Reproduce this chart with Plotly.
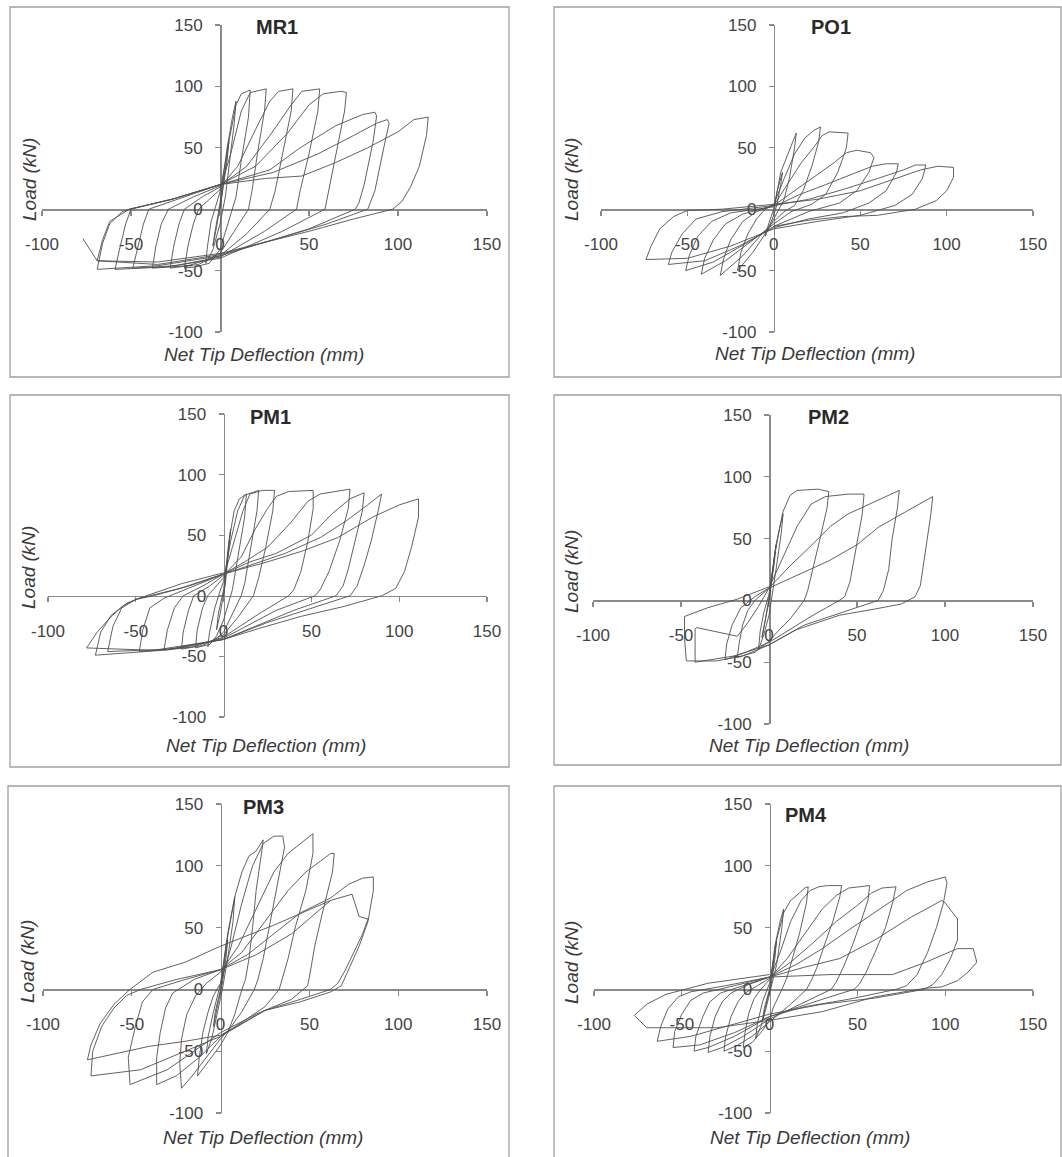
import plotly.graph_objects as go

# ---------------- data ----------------
panel_names = ["MR1", "PO1", "PM1", "PM2", "PM3", "PM4"]
tick_values = [-100, -50, 0, 50, 100, 150]
tick_labels = ["-100", "-50", "0", "50", "100", "150"]
x_title = "Net Tip Deflection (mm)"
y_title = "Load (kN)"

mr1_x = [0, 3, 5, 4, 1, -2, -4, -3, 0,
         4, 7, 9, 8, 5, 3, 0, -4, -8, -7, -5, -2, 0,
         5, 9, 12, 17, 16, 12, 9, 7, 3, 0, -6, -14, -20, -18, -15, -12, -6, 0,
         6, 12, 17, 26, 25, 21, 18, 16, 8, 0, -12, -28, -26, -23, -20, -10, 0,
         10, 20, 28, 33, 41, 40, 35, 31, 28, 15, 0, -18, -38, -36, -33, -29, -15, 0,
         15, 28, 40, 46, 56, 55, 50, 45, 43, 25, 0, -25, -49, -46, -43, -40, -20, 0,
         20, 38, 50, 58, 68, 71, 70, 65, 61, 59, 35, 0, -30, -59, -56, -53, -50, -25, 0,
         28, 45, 65, 80, 87, 88, 86, 81, 78, 76, 50, 25, 0, -35, -69, -66, -62, -55, -51, -27, 0,
         30, 55, 75, 88, 94, 95, 92, 87, 83, 60, 30, 0, -35, -69, -66, -62, -51, -27, 0,
         25, 46, 65, 83, 100, 109, 117, 116, 112, 107, 102, 97, 75, 50, 25, 0, -35, -69, -77]
mr1_y = [0, 35, 55, 40, 10, -15, -30, -20, 5,
         50, 75, 88, 70, 35, 10, -12, -33, -44, -30, -10, 5, 14,
         55, 85, 94, 97, 75, 40, 10, 0, -18, -33, -44, -47, -48, -30, -12, 0, 8, 16,
         45, 80, 95, 98, 80, 45, 15, 0, -18, -36, -45, -48, -30, -12, 0, 10, 18,
         35, 65, 88, 96, 98, 80, 45, 15, 0, -20, -38, -46, -48, -30, -12, 0, 10, 19,
         35, 60, 85, 96, 98, 80, 45, 15, 0, -18, -39, -46, -48, -30, -12, 0, 10, 20,
         35, 62, 85, 94, 96, 95, 80, 45, 15, 0, -18, -40, -47, -49, -30, -12, 0, 9, 20,
         32, 50, 68, 77, 79, 76, 55, 20, 5, 0, -16, -27, -38, -46, -49, -28, -12, -2, 0, 8, 20,
         30, 45, 60, 70, 73, 70, 50, 15, 0, -12, -25, -37, -45, -42, -25, -10, 0, 8, 20,
         25, 27, 38, 50, 63, 73, 75, 60, 35, 18, 6, 0, -8, -18, -27, -36, -43, -42, -24]

po1_x = [0, 2, 5, 4, 2, 0, -3, -5, -3, 0,
         4, 8, 11, 13, 12, 9, 6, 3, 0, -5, -12, -21, -19, -15, -10, -5, 0,
         6, 12, 18, 23, 27, 26, 22, 17, 12, 6, 0, -8, -18, -31, -29, -25, -18, -10, 0,
         8, 16, 24, 28, 32, 43, 42, 37, 30, 22, 10, 0, -12, -28, -42, -40, -35, -28, -18, 0,
         12, 25, 35, 42, 48, 56, 58, 55, 48, 38, 20, 0, -15, -35, -51, -49, -44, -36, -25, 0,
         15, 30, 45, 57, 65, 72, 71, 65, 55, 40, 20, 0, -20, -40, -61, -59, -53, -45, -30, 0,
         20, 40, 60, 75, 82, 88, 86, 80, 70, 50, 25, 0, -25, -50, -74, -71, -66, -58, -50, -30, 0,
         25, 50, 70, 85, 95, 104, 104, 100, 94, 82, 60, 40, 20, 0]
po1_y = [0, 15, 30, 20, 5, -5, -15, -22, -12, 0,
         30, 45, 55, 62, 50, 25, 8, 0, -8, -20, -35, -50, -35, -20, -8, 0, 4,
         25, 45, 58, 64, 67, 55, 35, 15, 3, -2, -10, -22, -38, -54, -40, -25, -10, -2, 3,
         20, 38, 52, 60, 63, 62, 50, 30, 12, 4, -2, -12, -25, -42, -53, -40, -25, -12, -4, 3,
         15, 28, 38, 46, 48, 46, 42, 30, 15, 5, -2, -14, -27, -43, -50, -38, -22, -10, -3, 2,
         12, 20, 28, 35, 37, 37, 30, 15, 5, -3, -8, -15, -30, -42, -45, -35, -20, -8, -2, 3,
         8, 16, 25, 32, 36, 36, 25, 12, 3, -5, -10, -16, -30, -40, -41, -30, -16, -6, -1, 0, 4,
         8, 15, 25, 32, 35, 34, 26, 15, 7, 0, -5, -6, -9, -14]

pm1_x = [0, 2, 4, 3, 1, -2, -4, -3, 0,
         3, 6, 9, 13, 12, 8, 5, 3, 0, -4, -9, -8, -5, -2, 0,
         4, 8, 12, 20, 19, 15, 12, 10, 5, 0, -8, -16, -15, -12, -9, -5, 0,
         5, 11, 15, 22, 29, 28, 24, 20, 17, 8, 0, -12, -24, -23, -20, -17, -8, 0,
         10, 18, 25, 30, 37, 51, 51, 48, 44, 40, 37, 20, 0, -17, -34, -32, -28, -23, -12, 0,
         12, 25, 38, 48, 55, 72, 71, 66, 60, 55, 52, 30, 0, -24, -48, -46, -42, -34, -20, 0,
         15, 30, 50, 62, 72, 80, 79, 75, 71, 68, 64, 40, 0, -30, -66, -63, -58, -50, -40, -20, 0,
         20, 35, 55, 70, 82, 90, 88, 84, 80, 76, 72, 50, 25, 0, -35, -73, -70, -64, -55, -48, -25, 0,
         25, 45, 65, 85, 100, 111, 111, 107, 103, 98, 90, 68, 44, 20, 0, -40, -78, -72, -64, -57, -50, -24, 0]
pm1_y = [0, 30, 55, 40, 10, -15, -28, -15, 5,
         45, 70, 80, 84, 65, 30, 5, -5, -20, -33, -42, -30, -10, 4, 12,
         45, 70, 83, 87, 70, 35, 10, 0, -15, -30, -40, -43, -28, -10, 0, 7, 15,
         40, 70, 84, 87, 87, 70, 40, 15, 0, -18, -32, -41, -44, -30, -12, 0, 8, 17,
         32, 55, 72, 82, 86, 87, 72, 45, 20, 5, 0, -15, -34, -42, -45, -28, -10, 0, 8, 18,
         28, 40, 60, 78, 84, 88, 72, 45, 20, 5, 0, -12, -35, -43, -46, -28, -10, -2, 6, 18,
         28, 35, 50, 68, 80, 85, 70, 45, 22, 8, 0, -12, -36, -44, -46, -25, -10, -3, 0, 8, 18,
         28, 35, 48, 62, 75, 84, 70, 45, 25, 8, 0, -10, -22, -36, -45, -49, -30, -16, -6, -2, 6, 18,
         28, 37, 48, 65, 75, 80, 65, 40, 20, 6, 0, -9, -17, -27, -36, -45, -43, -30, -17, -8, -3, 10, 19]

pm2_x = [0, 2, 4, 3, 1, -2, -4, -3, 0,
         3, 6, 8, 7, 4, 2, 0, -3, -6, -5, -3, 0,
         4, 8, 12, 16, 28, 34, 33, 29, 25, 22, 20, 12, 5, 0, -8, -18, -17, -15, -12, -8, -4, 0,
         8, 16, 24, 32, 45, 54, 53, 50, 46, 43, 40, 25, 10, 0, -15, -25, -24, -21, -16, -8, 0,
         12, 23, 35, 45, 60, 70, 74, 73, 70, 68, 65, 62, 45, 20, 0, -20, -42, -42, -41, -18, -12, -6, 0,
         18, 34, 50, 62, 78, 93, 92, 90, 88, 86, 83, 75, 60, 40, 15, 0, -15, -30, -47, -48, -48, -35, -18, 0]
pm2_y = [0, 25, 45, 30, 10, -15, -30, -20, 0,
         35, 58, 70, 55, 25, 5, -12, -28, -40, -25, -10, 5,
         45, 72, 85, 89, 90, 88, 75, 50, 25, 8, 0, -15, -25, -33, -42, -46, -35, -20, -8, 0, 5, 10,
         35, 60, 78, 84, 86, 86, 70, 45, 15, 3, 0, -12, -25, -34, -43, -48, -35, -20, -6, 3, 10,
         28, 43, 60, 70, 80, 86, 89, 75, 50, 25, 8, 0, -8, -20, -36, -45, -50, -23, -22, -29, -18, -5, 10,
         22, 32, 45, 59, 72, 84, 70, 50, 30, 12, 3, -3, -7, -12, -24, -36, -45, -49, -49, -30, -13, -6, 1, 11]

pm3_x = [0, 2, 4, 3, 1, -2, -4, -3, 0,
         3, 6, 8, 7, 4, 1, -2, -5, -8, -7, -4, 0,
         4, 8, 12, 16, 20, 24, 23, 20, 18, 16, 14, 12, 8, 4, 0, -5, -10, -13, -12, -10, -7, -4, 0,
         6, 12, 18, 24, 30, 35, 36, 32, 28, 24, 21, 19, 12, 5, 0, -8, -16, -22, -23, -22, -19, -14, -8, 0,
         10, 20, 30, 38, 45, 52, 52, 48, 42, 38, 34, 33, 25, 10, 0, -12, -25, -36, -36, -34, -31, -27, -15, 0,
         12, 25, 38, 48, 56, 62, 64, 63, 57, 53, 50, 49, 40, 20, 0, -15, -30, -51, -52, -48, -44, -38, -20, 0,
         15, 30, 45, 62, 72, 80, 86, 86, 83, 78, 72, 68, 62, 45, 25, 0, -20, -45, -73, -72, -67, -60, -53, -45, -25, 0,
         20, 40, 62, 74, 78, 83, 80, 75, 70, 66, 62, 45, 25, 0, -20, -40, -75, -73, -68, -60, -51, -38, -20, 0, 30, 62]
pm3_y = [0, 20, 40, 25, 5, -15, -30, -18, 0,
         35, 60, 75, 55, 25, 0, -20, -40, -52, -38, -18, 5,
         45, 75, 95, 108, 112, 121, 110, 80, 50, 25, 8, 0, -20, -35, -45, -55, -65, -70, -55, -35, -18, -5, 5,
         35, 70, 100, 118, 124, 124, 115, 85, 55, 25, 8, 0, -18, -32, -40, -55, -70, -80, -60, -40, -20, -5, 5, 14,
         35, 65, 95, 110, 118, 126, 110, 80, 50, 25, 5, 0, -14, -28, -38, -55, -70, -77, -55, -35, -15, -3, 8, 16,
         30, 55, 80, 95, 104, 110, 110, 95, 60, 35, 10, 3, -8, -20, -35, -50, -65, -77, -55, -30, -10, 0, 8, 16,
         28, 45, 62, 74, 85, 90, 91, 80, 55, 35, 15, 3, -2, -10, -17, -38, -50, -65, -70, -50, -30, -15, -5, 0, 8, 16,
         28, 45, 72, 77, 59, 57, 45, 30, 15, 5, 0, -8, -17, -37, -42, -46, -57, -45, -28, -12, 0, 14, 22, 35, 52, 72]

pm4_x = [0, 2, 4, 3, 1, -2, -4, -3, 0,
         3, 6, 8, 7, 4, 1, -2, -5, -8, -7, -4, 0,
         4, 8, 12, 17, 20, 22, 21, 17, 13, 10, 7, 2, 0, -5, -10, -15, -14, -12, -9, -5, 0,
         6, 12, 18, 23, 28, 33, 41, 40, 36, 31, 27, 24, 21, 12, 0, -10, -18, -26, -25, -22, -18, -14, -7, 0,
         10, 20, 30, 38, 45, 57, 56, 52, 47, 42, 38, 35, 20, 0, -15, -27, -35, -34, -31, -27, -22, -12, 0,
         12, 25, 38, 50, 58, 64, 72, 70, 66, 60, 55, 51, 48, 30, 0, -20, -35, -43, -42, -38, -34, -28, -15, 0,
         15, 30, 45, 60, 70, 78, 90, 100, 101, 99, 95, 90, 84, 78, 72, 45, 20, 0, -20, -40, -55, -54, -50, -45, -38, -20, 0,
         20, 40, 60, 80, 93, 98, 100, 107, 107, 103, 98, 93, 88, 60, 30, 0, -25, -45, -64, -62, -58, -52, -45, -25, 0,
         35, 70, 89, 107, 116, 118, 113, 107, 98, 89, 60, 30, 0, -30, -50, -70, -77, -70, -59, -35, 0]
pm4_y = [0, 20, 40, 25, 5, -12, -25, -15, 0,
         35, 55, 65, 50, 20, 2, -15, -30, -40, -28, -10, 5,
         40, 62, 72, 78, 82, 83, 70, 45, 25, 10, 0, -15, -25, -35, -43, -47, -35, -20, -8, 0, 8,
         30, 55, 72, 80, 83, 84, 84, 75, 55, 35, 18, 8, 0, -12, -26, -38, -45, -50, -38, -22, -10, -3, 3, 9,
         25, 45, 65, 76, 82, 84, 72, 55, 35, 18, 6, 0, -10, -24, -38, -47, -51, -38, -22, -10, -3, 4, 10,
         22, 38, 55, 68, 78, 82, 83, 70, 50, 30, 14, 4, 0, -8, -22, -38, -47, -50, -38, -22, -10, -3, 3, 10,
         20, 33, 48, 62, 72, 80, 87, 91, 86, 70, 50, 30, 12, 3, 0, -8, -14, -22, -35, -45, -47, -34, -20, -9, -3, 3, 10,
         18, 25, 40, 58, 68, 72, 70, 57, 40, 25, 12, 4, 0, -7, -12, -20, -30, -38, -42, -30, -16, -6, -2, 3, 10,
         12, 12, 22, 33, 33, 22, 14, 7, 2, 1, -6, -18, -25, -31, -31, -31, -21, -12, -4, 5, 12]

series_x = [mr1_x, po1_x, pm1_x, pm2_x, pm3_x, pm4_x]
series_y = [mr1_y, po1_y, pm1_y, pm2_y, pm3_y, pm4_y]

# ---------------- layout (pixel geometry) ----------------
W, H = 1062, 1157
plot_boxes = [(42, 487, 25, 332), (601, 1033, 25, 332),
              (48, 487, 414, 717), (593, 1033, 415, 724),
              (43, 487, 804, 1113), (594, 1033, 804, 1113)]
frames = [(10, 509, 7, 377), (554, 1061, 7, 377),
          (10, 509, 395, 767), (554, 1061, 395, 765),
          (8, 509, 786, 1170), (554, 1061, 786, 1170)]
name_pos = [(277, 27), (831, 27), (270, 417), (828, 417), (263, 807), (806, 815)]
ytitle_pos = [(29, 180), (571, 180), (28, 568), (571, 572), (27, 962), (571, 963)]
xtitle_pos = [(264, 354), (815, 353), (266, 745), (809, 745), (263, 1137), (810, 1137)]

FONT = "Liberation Sans, Arial, sans-serif"
TXT = "#3a3a3a"
AX = "#8a8a8a"

fig = go.Figure()
layout = dict(width=W, height=H, autosize=False,
              margin=dict(l=0, r=0, t=0, b=0, pad=0, autoexpand=False),
              paper_bgcolor="white", plot_bgcolor="rgba(0,0,0,0)",
              showlegend=False, hovermode=False, font=dict(family=FONT, color=TXT))
annotations = []
shapes = []

for i in range(6):
    k = "" if i == 0 else str(i + 1)
    x0, x1, y0, y1 = plot_boxes[i]
    zero_x = x0 + (0 - (-100)) / 250 * (x1 - x0)
    zero_y = y0 + (150 - 0) / 250 * (y1 - y0)
    fig.add_trace(go.Scatter(x=series_x[i], y=series_y[i], mode="lines",
                             line=dict(color="#505050", width=0.9),
                             xaxis="x" + k, yaxis="y" + k, hoverinfo="skip"))
    common = dict(range=[-100, 150], tickvals=tick_values, ticktext=tick_labels,
                  showgrid=False, zeroline=False, showline=True, automargin=False,
                  linecolor=AX, linewidth=1.5, ticks="outside", ticklen=5,
                  tickcolor=AX, tickwidth=1.2, tickfont=dict(size=17, color="#444", family=FONT),
                  anchor="free", fixedrange=True, layer="below traces")
    layout["xaxis" + k] = dict(common, domain=[x0 / W, x1 / W],
                               position=1 - zero_y / H, ticklabelstandoff=14)
    layout["yaxis" + k] = dict(common, domain=[1 - y1 / H, 1 - y0 / H],
                               position=zero_x / W, ticklabelstandoff=9)
    fx0, fx1, fy0, fy1 = frames[i]
    shapes.append(dict(type="rect", xref="paper", yref="paper",
                       x0=fx0 / W, x1=fx1 / W, y0=1 - fy1 / H, y1=1 - fy0 / H,
                       line=dict(color="#a0a0a0", width=1.3), layer="below"))
    nx, ny = name_pos[i]
    annotations.append(dict(text="<b>" + panel_names[i] + "</b>", x=nx / W, y=1 - ny / H,
                            xref="paper", yref="paper", showarrow=False,
                            xanchor="center", yanchor="middle",
                            font=dict(size=20, color="#2a2a2a", family=FONT)))
    tx, ty = ytitle_pos[i]
    annotations.append(dict(text="<i>" + y_title + "</i>", x=tx / W, y=1 - ty / H,
                            xref="paper", yref="paper", showarrow=False, textangle=-90,
                            xanchor="center", yanchor="middle",
                            font=dict(size=19, color=TXT, family=FONT)))
    tx, ty = xtitle_pos[i]
    annotations.append(dict(text="<i>" + x_title + "</i>", x=tx / W, y=1 - ty / H,
                            xref="paper", yref="paper", showarrow=False,
                            xanchor="center", yanchor="middle",
                            font=dict(size=19, color=TXT, family=FONT)))

layout["annotations"] = annotations
layout["shapes"] = shapes
fig.update_layout(**layout)
fig.write_html("out.html", config={"displayModeBar": False, "staticPlot": True},
               post_script="document.body.style.margin='0';document.body.style.overflow='hidden';")
